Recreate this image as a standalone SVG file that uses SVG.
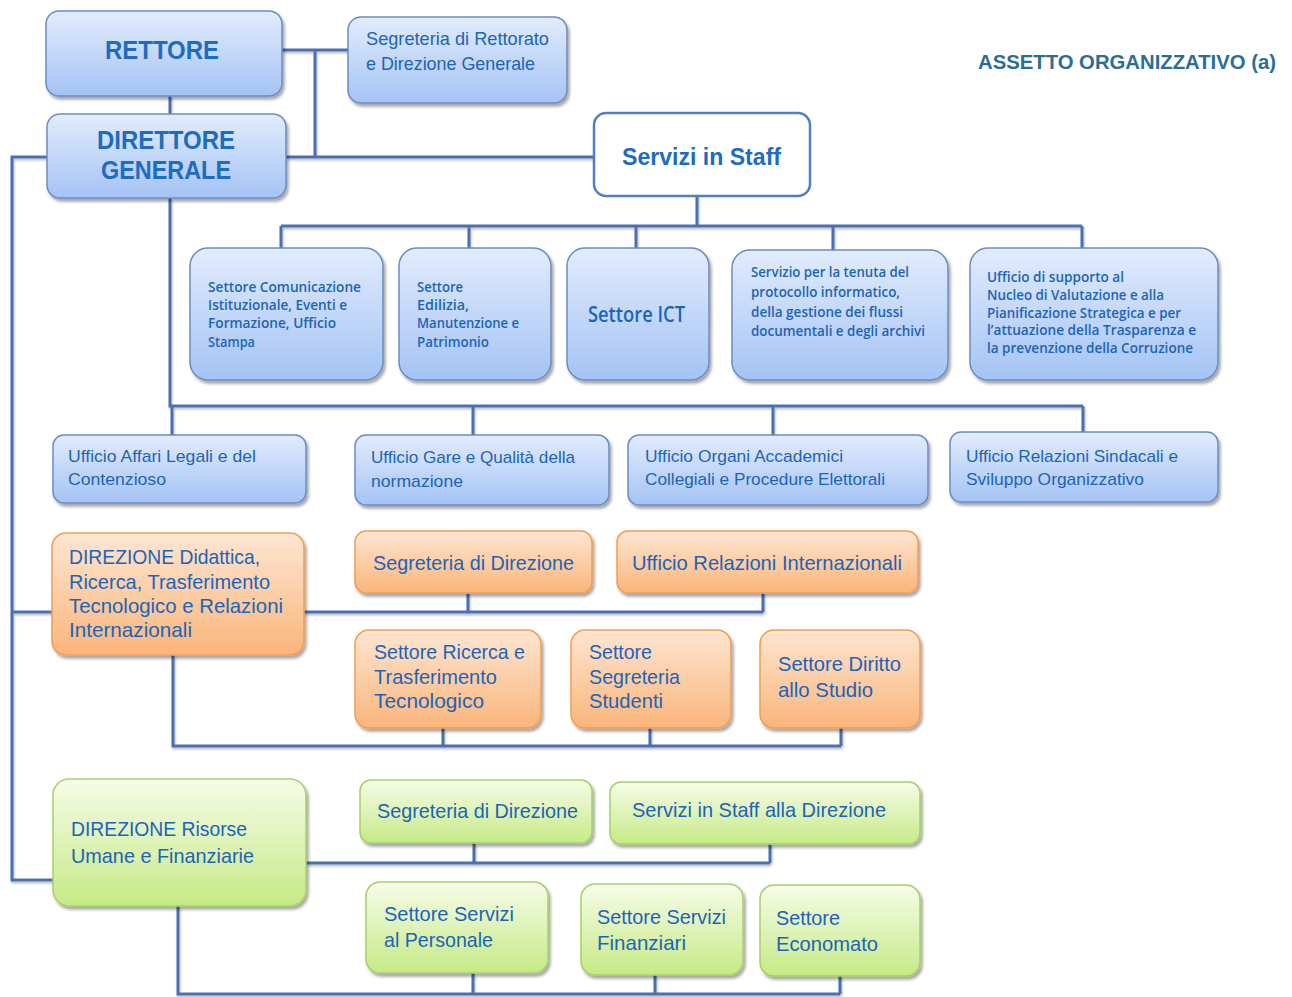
<svg xmlns="http://www.w3.org/2000/svg" width="1292" height="997" viewBox="0 0 1292 997">
<defs>
<linearGradient id="gB" x1="0" y1="0" x2="0" y2="1"><stop offset="0" stop-color="#e2ecfd"/><stop offset="1" stop-color="#a4c3f4"/></linearGradient>
<linearGradient id="gO" x1="0" y1="0" x2="0" y2="1"><stop offset="0" stop-color="#fde6d2"/><stop offset="1" stop-color="#fab57a"/></linearGradient>
<linearGradient id="gG" x1="0" y1="0" x2="0" y2="1"><stop offset="0" stop-color="#f6fce8"/><stop offset="1" stop-color="#c6ea86"/></linearGradient>
<filter id="sh" x="-10%" y="-10%" width="125%" height="130%"><feDropShadow dx="2" dy="3" stdDeviation="1.5" flood-color="#000" flood-opacity="0.35"/></filter>
<filter id="lsh" x="-5%" y="-5%" width="110%" height="120%"><feDropShadow dx="1" dy="2" stdDeviation="0.8" flood-color="#000" flood-opacity="0.25"/></filter>
</defs>
<style>
.b{fill:url(#gB);stroke:#6b8cc4;stroke-width:1.5;filter:url(#sh)}
.o{fill:url(#gO);stroke:#f39c52;stroke-width:1.5;filter:url(#sh)}
.g{fill:url(#gG);stroke:#a6cf68;stroke-width:1.5;filter:url(#sh)}
.w{fill:#fff;stroke:#4f7fc0;stroke-width:2.5}
.t{font-family:"Liberation Sans Narrow","Liberation Sans",Arial,sans-serif;fill:#1c64b8}
.h{font-family:"Liberation Sans","Arial",sans-serif;font-weight:bold;fill:#1e6cc0}
.s{font-family:"Open Sans","Liberation Sans",sans-serif;font-weight:600;fill:#1c64b8;font-size:13.5px}
.ict{font-family:"Open Sans","Liberation Sans",sans-serif;font-weight:600;fill:#1c64b8;font-size:21px}
.c{fill:none;stroke:#4a70b0;stroke-width:3}
.title{font-family:"Liberation Sans Narrow","Liberation Sans",sans-serif;font-weight:bold;fill:#2a6d96;font-size:20px}
</style>

<g id="connectors" class="c" filter="url(#lsh)">
<path d="M282 50H348M315 50V157M286 157H594M170 96V114"/>
<path d="M697 196V226M281 226H1082M281 226V248M469 226V248M636 226V248M833 226V250M1082 226V248"/>
<path d="M170 198V406H1083M172 406V435M473 406V435M773 406V435M1083 406V432"/>
<path d="M47 157H12V880H53M12 612H52"/>
<path d="M304 612H763M468 593V612M763 593V612"/>
<path d="M173 655V746H841M443 728V746M650 728V746M841 728V746"/>
<path d="M306 863H770M474 843V863M770 844V863"/>
<path d="M178 906V994H840M473 973V994M655 975V994M840 976V994"/>
</g>

<text class="title" x="978" y="69" textLength="298" lengthAdjust="spacingAndGlyphs">ASSETTO ORGANIZZATIVO  (a)</text>

<g id="rettore"><rect class="b" x="46" y="11" width="236" height="85" rx="13"/>
<text class="h" x="105" y="59" font-size="26" textLength="114" lengthAdjust="spacingAndGlyphs">RETTORE</text></g>

<g id="segreteria-rettorato"><rect class="b" x="348" y="17" width="219" height="86" rx="13"/>
<text class="t" font-size="19"><tspan x="366" y="45" textLength="183" lengthAdjust="spacingAndGlyphs">Segreteria di Rettorato</tspan><tspan x="366" y="70" textLength="169" lengthAdjust="spacingAndGlyphs">e Direzione Generale</tspan></text></g>

<g id="direttore-generale"><rect class="b" x="47" y="114" width="239" height="84" rx="13"/>
<text class="h" font-size="26"><tspan x="97" y="149" textLength="138" lengthAdjust="spacingAndGlyphs">DIRETTORE</tspan><tspan x="101" y="179" textLength="130" lengthAdjust="spacingAndGlyphs">GENERALE</tspan></text></g>

<g id="servizi-staff"><rect class="w" x="594" y="113" width="216" height="83" rx="12"/>
<text class="h" x="622" y="165" font-size="24" textLength="159" lengthAdjust="spacingAndGlyphs">Servizi in Staff</text></g>

<g id="settore-comunicazione"><rect class="b" x="190" y="248" width="193" height="132" rx="18"/>
<text class="s"><tspan x="208" y="292" textLength="153" lengthAdjust="spacingAndGlyphs">Settore Comunicazione</tspan><tspan x="208" y="310" textLength="139" lengthAdjust="spacingAndGlyphs">Istituzionale, Eventi e</tspan><tspan x="208" y="328" textLength="128" lengthAdjust="spacingAndGlyphs">Formazione, Ufficio</tspan><tspan x="208" y="347" textLength="47" lengthAdjust="spacingAndGlyphs">Stampa</tspan></text></g>

<g id="settore-edilizia"><rect class="b" x="399" y="248" width="152" height="132" rx="18"/>
<text class="s"><tspan x="417" y="292" textLength="46" lengthAdjust="spacingAndGlyphs">Settore</tspan><tspan x="417" y="310" textLength="52" lengthAdjust="spacingAndGlyphs">Edilizia,</tspan><tspan x="417" y="328" textLength="102" lengthAdjust="spacingAndGlyphs">Manutenzione e</tspan><tspan x="417" y="347" textLength="72" lengthAdjust="spacingAndGlyphs">Patrimonio</tspan></text></g>

<g id="settore-ict"><rect class="b" x="567" y="248" width="142" height="132" rx="18"/>
<text class="ict" x="588" y="322" textLength="97" lengthAdjust="spacingAndGlyphs">Settore ICT</text></g>

<g id="servizio-protocollo"><rect class="b" x="732" y="250" width="216" height="130" rx="18"/>
<text class="s"><tspan x="751" y="277" textLength="158" lengthAdjust="spacingAndGlyphs">Servizio per la tenuta del</tspan><tspan x="751" y="297" textLength="149" lengthAdjust="spacingAndGlyphs">protocollo informatico,</tspan><tspan x="751" y="317" textLength="152" lengthAdjust="spacingAndGlyphs">della gestione dei flussi</tspan><tspan x="751" y="336" textLength="174" lengthAdjust="spacingAndGlyphs">documentali e degli archivi</tspan></text></g>

<g id="ufficio-nucleo"><rect class="b" x="970" y="248" width="248" height="132" rx="18"/>
<text class="s"><tspan x="987" y="282" textLength="137" lengthAdjust="spacingAndGlyphs">Ufficio di supporto al</tspan><tspan x="987" y="300" textLength="177" lengthAdjust="spacingAndGlyphs">Nucleo di Valutazione e alla</tspan><tspan x="987" y="318" textLength="194" lengthAdjust="spacingAndGlyphs">Pianificazione Strategica e per</tspan><tspan x="987" y="335" textLength="209" lengthAdjust="spacingAndGlyphs">l’attuazione della  Trasparenza e</tspan><tspan x="987" y="353" textLength="206" lengthAdjust="spacingAndGlyphs">la prevenzione della Corruzione</tspan></text></g>

<g id="ufficio-affari-legali"><rect class="b" x="53" y="435" width="253" height="68" rx="11"/>
<text class="t" font-size="17"><tspan x="68" y="462" textLength="188" lengthAdjust="spacingAndGlyphs">Ufficio Affari Legali e del</tspan><tspan x="68" y="485" textLength="98" lengthAdjust="spacingAndGlyphs">Contenzioso</tspan></text></g>

<g id="ufficio-gare"><rect class="b" x="355" y="435" width="254" height="70" rx="11"/>
<text class="t" font-size="17"><tspan x="371" y="463" textLength="204" lengthAdjust="spacingAndGlyphs">Ufficio Gare e Qualità della</tspan><tspan x="371" y="487" textLength="92" lengthAdjust="spacingAndGlyphs">normazione</tspan></text></g>

<g id="ufficio-organi"><rect class="b" x="628" y="435" width="300" height="70" rx="11"/>
<text class="t" font-size="17"><tspan x="645" y="462" textLength="198" lengthAdjust="spacingAndGlyphs">Ufficio Organi Accademici</tspan><tspan x="645" y="485" textLength="240" lengthAdjust="spacingAndGlyphs">Collegiali e Procedure Elettorali</tspan></text></g>

<g id="ufficio-relazioni-sindacali"><rect class="b" x="950" y="432" width="268" height="70" rx="11"/>
<text class="t" font-size="17"><tspan x="966" y="462" textLength="212" lengthAdjust="spacingAndGlyphs">Ufficio Relazioni Sindacali e</tspan><tspan x="966" y="485" textLength="178" lengthAdjust="spacingAndGlyphs">Sviluppo Organizzativo</tspan></text></g>

<g id="direzione-didattica"><rect class="o" x="52" y="533" width="252" height="122" rx="14"/>
<text class="t" font-size="21"><tspan x="69" y="564" textLength="191" lengthAdjust="spacingAndGlyphs">DIREZIONE Didattica,</tspan><tspan x="69" y="589" textLength="201" lengthAdjust="spacingAndGlyphs">Ricerca, Trasferimento</tspan><tspan x="69" y="613" textLength="214" lengthAdjust="spacingAndGlyphs">Tecnologico e Relazioni</tspan><tspan x="69" y="637" textLength="123" lengthAdjust="spacingAndGlyphs">Internazionali</tspan></text></g>

<g id="segreteria-direzione-didattica"><rect class="o" x="355" y="531" width="237" height="62" rx="11"/>
<text class="t" x="373" y="570" font-size="21" textLength="201" lengthAdjust="spacingAndGlyphs">Segreteria di Direzione</text></g>

<g id="ufficio-relazioni-internazionali"><rect class="o" x="617" y="531" width="301" height="62" rx="11"/>
<text class="t" x="632" y="570" font-size="21" textLength="270" lengthAdjust="spacingAndGlyphs">Ufficio Relazioni Internazionali</text></g>

<g id="settore-ricerca"><rect class="o" x="355" y="630" width="186" height="98" rx="14"/>
<text class="t" font-size="21"><tspan x="374" y="659" textLength="151" lengthAdjust="spacingAndGlyphs">Settore Ricerca e</tspan><tspan x="374" y="684" textLength="123" lengthAdjust="spacingAndGlyphs">Trasferimento</tspan><tspan x="374" y="708" textLength="110" lengthAdjust="spacingAndGlyphs">Tecnologico</tspan></text></g>

<g id="settore-segreteria-studenti"><rect class="o" x="571" y="630" width="160" height="98" rx="14"/>
<text class="t" font-size="21"><tspan x="589" y="659" textLength="63" lengthAdjust="spacingAndGlyphs">Settore</tspan><tspan x="589" y="684" textLength="91" lengthAdjust="spacingAndGlyphs">Segreteria</tspan><tspan x="589" y="708" textLength="74" lengthAdjust="spacingAndGlyphs">Studenti</tspan></text></g>

<g id="settore-diritto-studio"><rect class="o" x="760" y="630" width="160" height="98" rx="14"/>
<text class="t" font-size="21"><tspan x="778" y="671" textLength="123" lengthAdjust="spacingAndGlyphs">Settore Diritto</tspan><tspan x="778" y="697" textLength="95" lengthAdjust="spacingAndGlyphs">allo Studio</tspan></text></g>

<g id="direzione-risorse"><rect class="g" x="53" y="779" width="253" height="127" rx="16"/>
<text class="t" font-size="21"><tspan x="71" y="836" textLength="176" lengthAdjust="spacingAndGlyphs">DIREZIONE Risorse</tspan><tspan x="71" y="863" textLength="183" lengthAdjust="spacingAndGlyphs">Umane e Finanziarie</tspan></text></g>

<g id="segreteria-direzione-risorse"><rect class="g" x="360" y="780" width="232" height="63" rx="11"/>
<text class="t" x="377" y="818" font-size="21" textLength="201" lengthAdjust="spacingAndGlyphs">Segreteria di Direzione</text></g>

<g id="servizi-staff-direzione"><rect class="g" x="610" y="782" width="310" height="62" rx="11"/>
<text class="t" x="632" y="817" font-size="21" textLength="254" lengthAdjust="spacingAndGlyphs">Servizi in Staff alla Direzione</text></g>

<g id="settore-servizi-personale"><rect class="g" x="366" y="882" width="182" height="91" rx="14"/>
<text class="t" font-size="21"><tspan x="384" y="921" textLength="130" lengthAdjust="spacingAndGlyphs">Settore Servizi</tspan><tspan x="384" y="947" textLength="109" lengthAdjust="spacingAndGlyphs">al Personale</tspan></text></g>

<g id="settore-servizi-finanziari"><rect class="g" x="581" y="884" width="162" height="91" rx="14"/>
<text class="t" font-size="21"><tspan x="597" y="924" textLength="129" lengthAdjust="spacingAndGlyphs">Settore Servizi</tspan><tspan x="597" y="950" textLength="89" lengthAdjust="spacingAndGlyphs">Finanziari</tspan></text></g>

<g id="settore-economato"><rect class="g" x="760" y="885" width="160" height="91" rx="14"/>
<text class="t" font-size="21"><tspan x="776" y="925" textLength="64" lengthAdjust="spacingAndGlyphs">Settore</tspan><tspan x="776" y="951" textLength="102" lengthAdjust="spacingAndGlyphs">Economato</tspan></text></g>
</svg>
